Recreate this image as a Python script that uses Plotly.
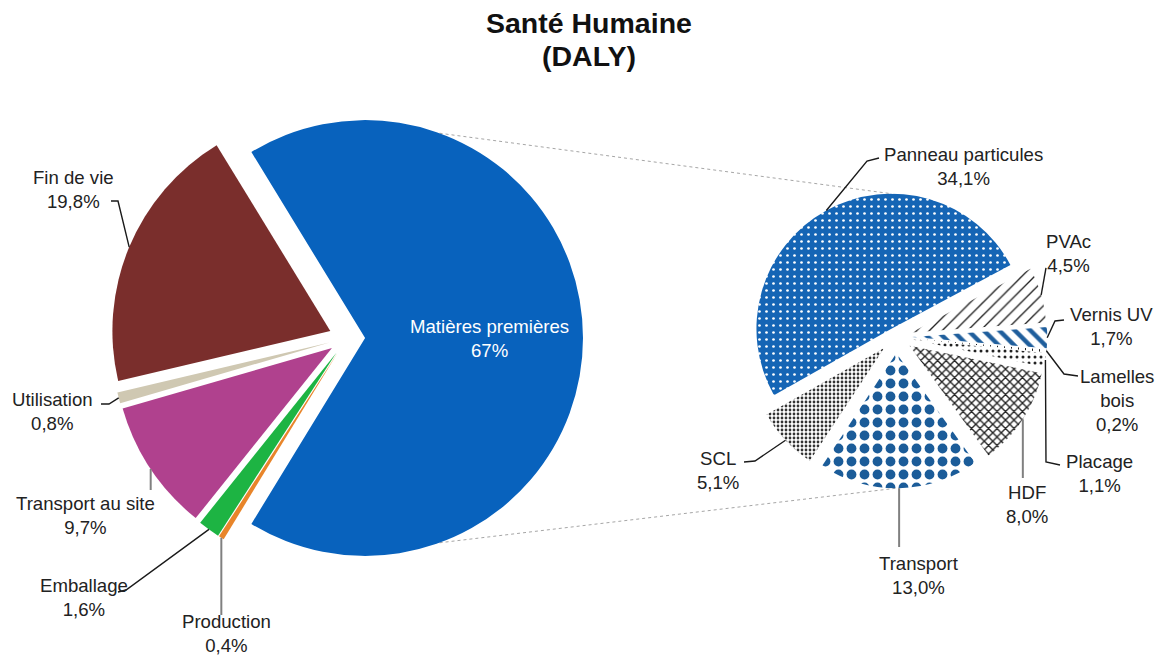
import math
import plotly.graph_objects as go

# ---------------- data ----------------
main_labels = ["Matières premières", "Fin de vie", "Utilisation",
               "Transport au site", "Emballage", "Production"]
main_values = [67.0, 19.8, 0.8, 9.7, 1.6, 0.4]
main_pct = ["67%", "19,8%", "0,8%", "9,7%", "1,6%", "0,4%"]

detail_labels = ["Panneau particules", "PVAc", "Vernis UV", "Lamelles bois",
                 "Placage", "HDF", "Transport", "SCL"]
detail_values = [34.1, 4.5, 1.7, 0.2, 1.1, 8.0, 13.0, 5.1]
detail_pct = ["34,1%", "4,5%", "1,7%", "0,2%", "1,1%", "8,0%", "13,0%", "5,1%"]

# ---------------- page geometry (pixels) ----------------
W, H = 1165, 662
FONT = "Liberation Sans, Arial, sans-serif"
LABEL_SIZE = 18.6

C1, HALF1 = (347.0, 338.0), 236.0          # main pie box centre / half size
PULL1 = [0.083] * len(main_values)
C2, HALF2 = (896.0, 337.0), 151.2          # detail pie box centre / half size
PULL2 = [0.07, 0.12, 0.12, 0.12, 0.12, 0.12, 0.12, 0.12]

# main pie: first slice centred on 3 o'clock, slices running counter-clockwise
ROT1 = 90 - 180 * main_values[0] / sum(main_values)
ROT2 = -119.5                               # detail pie, clockwise


def domain(c, half):
    return dict(x=[(c[0] - half) / W, (c[0] + half) / W],
                y=[1 - (c[1] + half) / H, 1 - (c[1] - half) / H])


def radius(half, pulls):
    return half / (1 + max(pulls))


def mid_angles(values, rotation, clockwise):
    total = sum(values)
    out = []
    if clockwise:
        a = rotation
        for v in values:
            s = 360 * v / total
            out.append(a + s / 2)
            a += s
    else:
        a = rotation + 360 * values[0] / total
        for v in values:
            s = 360 * v / total
            out.append(a - s / 2)
            a -= s
    return out


def slice_point(c, r, pull_dir_deg, pull, ang_deg, frac=1.0):
    """Point at angle ang_deg (clockwise from 12 o'clock) on a slice pulled
    along pull_dir_deg."""
    pd = math.radians(pull_dir_deg)
    a = math.radians(ang_deg)
    cx = c[0] + pull * r * math.sin(pd)
    cy = c[1] - pull * r * math.cos(pd)
    return (cx + frac * r * math.sin(a), cy - frac * r * math.cos(a))


def to_paper(p):
    return (p[0] / W, 1 - p[1] / H)


R1 = radius(HALF1, PULL1)
R2 = radius(HALF2, PULL2)
MID1 = mid_angles(main_values, ROT1, clockwise=False)
MID2 = mid_angles(detail_values, ROT2, clockwise=True)

fig = go.Figure()

fig.add_trace(go.Pie(
    labels=main_labels, values=main_values, sort=False,
    direction="counterclockwise", rotation=ROT1, pull=PULL1,
    domain=domain(C1, HALF1), textinfo="none", hoverinfo="label+value",
    marker=dict(colors=["#0862BD", "#7A2E2C", "#CFC8B2", "#B0418E",
                        "#1DB443", "#E8852A"],
                line=dict(width=0)),
))

pat_bg = ["#1565B5", "white", "white", "white", "white", "white", "white", "white"]
pat_fg = ["white", "#222222", "#1F5E9C", "#222222", "#222222", "#222222",
          "#1B5C99", "#333333"]
pat_shape = [".", "/", "\\", "|", ".", "x", ".", "."]
pat_size = [7, 9, 11, 7, 6, 6, 13, 4]
pat_solid = [0.12, 0.15, 0.4, 0.15, 0.2, 0.4, 0.45, 0.38]

fig.add_trace(go.Pie(
    labels=detail_labels, values=detail_values, sort=False,
    direction="clockwise", rotation=ROT2, pull=PULL2,
    domain=domain(C2, HALF2), textinfo="none", hoverinfo="label+value",
    marker=dict(colors=pat_bg, line=dict(width=0),
                pattern=dict(shape=pat_shape, bgcolor=pat_bg, fgcolor=pat_fg,
                             size=pat_size, solidity=pat_solid,
                             fillmode="replace")),
))

# ---------------- labels and leader lines ----------------
BLACK, GREY = "#1a1a1a", "#808080"

# (label centre, leader route after the arc point, line colour)
main_label_layout = [
    None,
    ((73, 189), [(118, 201), (111, 201)], BLACK),
    ((52, 411), [(109, 404), (101, 404)], BLACK),
    ((85, 515), None, GREY),
    ((84, 597), [(126, 590), (118, 592)], BLACK),
    ((226, 633), None, GREY),
]
detail_label_layout = [
    ((963, 166), [(867, 161), (879, 158)], BLACK),
    ((1068, 253), [(1046, 268)], BLACK),
    ((1111, 326), [(1055, 321), (1064, 320)], BLACK),
    ((1117, 400), [(1064, 374), (1078, 376)], BLACK),
    ((1099, 473), [(1046, 462), (1060, 465)], BLACK),
    ((1027, 504), None, GREY),
    ((919, 575), None, GREY),
    ((718, 470), [(755, 461), (744, 462)], BLACK),
]
vertical_end = {("m", 3): 490, ("m", 5): 615, ("d", 5): 478, ("d", 6): 547}

annotations = []
shapes = []


def add_leader(start, route, colour, vend):
    if route is None:
        pts = [start, (start[0], vend)]
        width = 2
    else:
        pts = [start] + list(route)
        width = 1.4
    path = "M " + " L ".join(
        "{:.5f},{:.5f}".format(*to_paper(p)) for p in pts)
    shapes.append(dict(type="path", path=path, xref="paper", yref="paper",
                       line=dict(color=colour, width=width)))


def add_label(pos, text):
    x, y = to_paper(pos)
    annotations.append(dict(x=x, y=y, xref="paper", yref="paper", text=text,
                            showarrow=False, xanchor="center", yanchor="middle",
                            font=dict(family=FONT, size=LABEL_SIZE,
                                      color="#222222")))


for i, spec in enumerate(main_label_layout):
    if spec is None:
        continue
    pos, route, colour = spec
    start = slice_point(C1, R1, MID1[i], PULL1[i], MID1[i])
    add_leader(start, route, colour, vertical_end.get(("m", i)))
    add_label(pos, f"{main_labels[i]}<br>{main_pct[i]}")

for i, spec in enumerate(detail_label_layout):
    pos, route, colour = spec
    start = slice_point(C2, R2, MID2[i], PULL2[i], MID2[i])
    add_leader(start, route, colour, vertical_end.get(("d", i)))
    name = detail_labels[i].replace("Lamelles bois", "Lamelles<br>bois")
    add_label(pos, f"{name}<br>{detail_pct[i]}")

# label inside the main slice
inner = slice_point(C1, R1, MID1[0], PULL1[0], MID1[0], frac=0.57)
ix, iy = to_paper(inner)
annotations.append(dict(x=ix, y=iy, xref="paper", yref="paper",
                        text=f"{main_labels[0]}<br>{main_pct[0]}",
                        showarrow=False, xanchor="center", yanchor="middle",
                        font=dict(family=FONT, size=LABEL_SIZE, color="white")))

# series lines linking the main slice to the detail pie
top_a = slice_point(C1, R1, MID1[0], PULL1[0], 20)
bot_a = slice_point(C1, R1, MID1[0], PULL1[0], 160)
top_b = slice_point(C2, R2, MID2[0], PULL2[0], 0)
bot_b = slice_point(C2, R2, MID2[6], PULL2[6], 180)
for a, b in ((top_a, top_b), (bot_a, bot_b)):
    pa, pb = to_paper(a), to_paper(b)
    shapes.append(dict(type="line", xref="paper", yref="paper",
                       x0=pa[0], y0=pa[1], x1=pb[0], y1=pb[1],
                       line=dict(color="#a6a6a6", width=1, dash="dot"),
                       layer="below"))

# title, one annotation per line
for text, yc in (("<b>Santé Humaine</b>", 23), ("<b>(DALY)</b>", 56)):
    annotations.append(dict(x=589 / W, y=1 - yc / H, xref="paper", yref="paper",
                            text=text, showarrow=False,
                            xanchor="center", yanchor="middle",
                            font=dict(family=FONT, size=28.5, color="#111111")))

fig.update_layout(
    width=W, height=H, autosize=False,
    margin=dict(l=0, r=0, t=0, b=0),
    paper_bgcolor="white", plot_bgcolor="white",
    showlegend=False,
    annotations=annotations, shapes=shapes,
)

fig.write_html("out.html")
